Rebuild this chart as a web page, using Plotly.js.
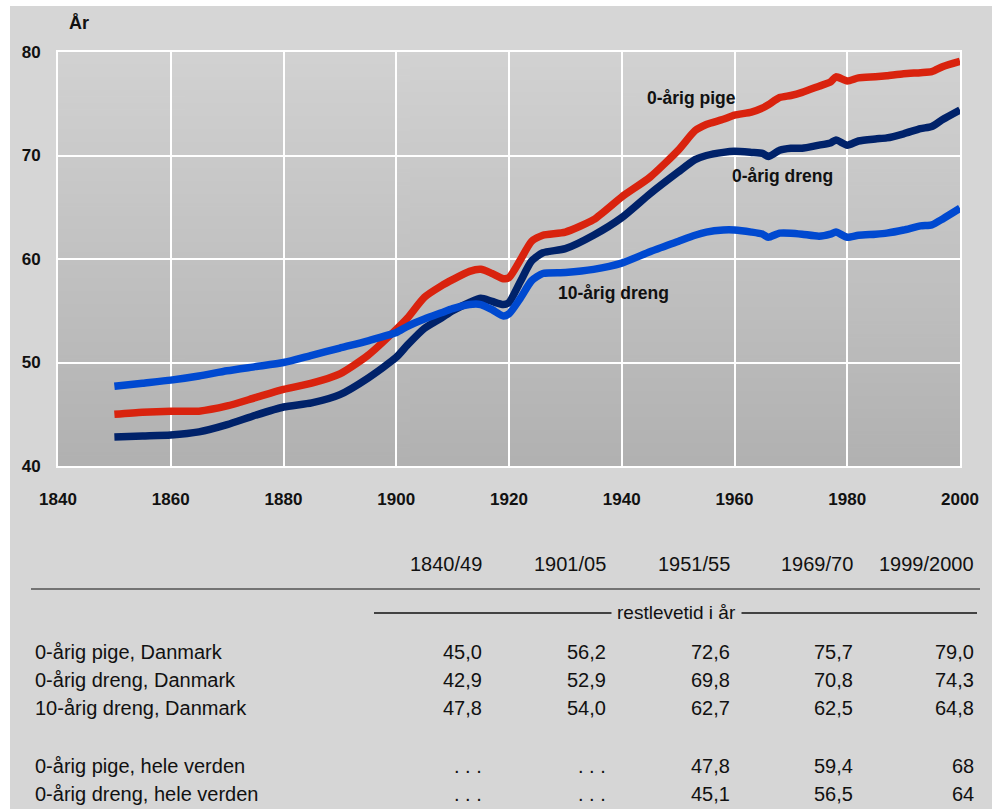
<!DOCTYPE html>
<html>
<head>
<meta charset="utf-8">
<script src="https://cdn.plot.ly/plotly-3.0.1.min.js"></script>
<style>
html,body{margin:0;padding:0;background:#ffffff;}
#chart{width:999px;height:809px;}
</style>
</head>
<body>
<div id="chart"></div>
<script>
// ---------- data ----------
const years = [1850,1855,1860,1865,1870,1875,1880,1885,1890,1895,1900,1902,1905,1908,1910,1913,1915,1917,1919,1920,1922,1924,1926,1930,1935,1940,1945,1950,1953,1955,1958,1960,1963,1965,1966,1968,1970,1972,1975,1977,1978,1980,1982,1985,1987,1990,1993,1995,1997,2000];
const pige0 = [45.0,45.2,45.3,45.3,45.8,46.6,47.4,48.0,48.9,50.7,53.2,54.3,56.3,57.4,58.0,58.8,59.0,58.6,58.1,58.2,59.9,61.7,62.3,62.6,63.8,66.0,67.9,70.5,72.4,73.0,73.5,73.9,74.2,74.6,74.9,75.6,75.8,76.1,76.7,77.1,77.6,77.2,77.5,77.6,77.7,77.9,78.0,78.1,78.6,79.1];
const dreng0 = [42.8,42.9,43.0,43.3,44.0,44.9,45.7,46.1,46.9,48.5,50.5,51.7,53.3,54.3,55.0,55.8,56.2,55.9,55.6,55.8,57.8,59.8,60.6,61.0,62.3,64.0,66.3,68.4,69.6,70.0,70.3,70.4,70.3,70.2,69.9,70.5,70.7,70.7,71.0,71.2,71.5,71.0,71.4,71.6,71.7,72.1,72.6,72.8,73.5,74.4];
const dreng10 = [47.7,48.0,48.3,48.7,49.2,49.6,50.0,50.7,51.4,52.1,52.9,53.5,54.2,54.8,55.2,55.6,55.6,55.1,54.5,54.7,56.2,57.9,58.6,58.7,59.0,59.6,60.7,61.7,62.3,62.6,62.8,62.8,62.6,62.4,62.1,62.5,62.5,62.4,62.2,62.4,62.6,62.1,62.3,62.4,62.5,62.8,63.2,63.3,63.9,64.9];

const seriesNames = ['0-årig pige','0-årig dreng','10-årig dreng'];
const xTicks = [1840,1860,1880,1900,1920,1940,1960,1980,2000];
const yTicks = [40,50,60,70,80];

const tableCols = ['1840/49','1901/05','1951/55','1969/70','1999/2000'];
const tableUnit = 'restlevetid i år';
const tableRowLabels = ['0-årig pige, Danmark','0-årig dreng, Danmark','10-årig dreng, Danmark','0-årig pige, hele verden','0-årig dreng, hele verden'];
const tableValues = [
  ['45,0','56,2','72,6','75,7','79,0'],
  ['42,9','52,9','69,8','70,8','74,3'],
  ['47,8','54,0','62,7','62,5','64,8'],
  ['. . .','. . .','47,8','59,4','68'],
  ['. . .','. . .','45,1','56,5','64']
];

// ---------- layout geometry (pixels) ----------
const W = 999, H = 809;
const L = 58, R = 960, T = 52, B = 466;
const PW = R - L, PH = B - T;
const X = px => (px - L) / PW;
const Y = py => (B - py) / PH;

// gradient background for plot area
const cv = document.createElement('canvas');
cv.width = 4; cv.height = 256;
const cx = cv.getContext('2d');
const g = cx.createLinearGradient(0,0,0,256);
g.addColorStop(0,'#d2d2d2');
g.addColorStop(1,'#b1b1b1');
cx.fillStyle = g; cx.fillRect(0,0,4,256);
const gradURL = cv.toDataURL('image/png');

const colors = ['#d9230e','#00226a','#0049d0'];
const ys = [pige0, dreng0, dreng10];
const traces = ys.map((v,i) => ({
  x: years, y: v, type:'scatter', mode:'lines', name: seriesNames[i],
  line:{color:colors[i], width:7.5, shape:'spline', smoothing:0.6},
  hoverinfo:'skip'
}));

const sansB = 'Liberation Sans, Arial, sans-serif';
const annotations = [];
// axis unit
annotations.push({xref:'paper',yref:'paper',x:X(79),y:Y(23),text:'<b>År</b>',showarrow:false,
  xanchor:'center',yanchor:'middle',font:{family:sansB,size:18,color:'#111'}});
// series labels
const labelPos = [[691,98],[782,176],[613,293]];
seriesNames.forEach((n,i)=>{
  annotations.push({xref:'paper',yref:'paper',x:X(labelPos[i][0]),y:Y(labelPos[i][1]),
    text:'<b>'+n+'</b>',showarrow:false,xanchor:'center',yanchor:'middle',
    font:{family:sansB,size:17.5,color:'#111'}});
});
// table
const colRight = [484,608,732,855,976];
const tfont = {family:'Liberation Sans, Arial, sans-serif',size:20,color:'#111'};
tableCols.forEach((c,j)=>{
  annotations.push({xref:'paper',yref:'paper',x:X(colRight[j]),y:Y(564),text:c,showarrow:false,
    xanchor:'right',yanchor:'middle',font:tfont});
});
annotations.push({xref:'paper',yref:'paper',x:X(676),y:Y(612),text:tableUnit,showarrow:false,
  xanchor:'center',yanchor:'middle',font:{family:tfont.family,size:19,color:'#111'},
  bgcolor:'#d6d6d6',borderpad:5});
const rowY = [652,680,708,766,794];
tableRowLabels.forEach((lab,i)=>{
  annotations.push({xref:'paper',yref:'paper',x:X(33),y:Y(rowY[i]),text:lab,showarrow:false,
    xanchor:'left',yanchor:'middle',font:tfont});
  tableValues[i].forEach((v,j)=>{
    annotations.push({xref:'paper',yref:'paper',x:X(colRight[j]),y:Y(rowY[i]),text:v,showarrow:false,
      xanchor:'right',yanchor:'middle',font:tfont});
  });
});

const shapes = [
  // white outer strips
  {type:'rect',xref:'paper',yref:'paper',x0:X(0),x1:X(10),y0:Y(H),y1:Y(0),fillcolor:'#ffffff',line:{width:0}},
  {type:'rect',xref:'paper',yref:'paper',x0:X(0),x1:X(W),y0:Y(6),y1:Y(0),fillcolor:'#ffffff',line:{width:0}},
  {type:'rect',xref:'paper',yref:'paper',x0:X(992),x1:X(W),y0:Y(H),y1:Y(0),fillcolor:'#ffffff',line:{width:0}},
  // table rules
  {type:'line',xref:'paper',yref:'paper',x0:X(31),x1:X(980),y0:Y(589),y1:Y(589),line:{color:'#111',width:1}},
  {type:'line',xref:'paper',yref:'paper',x0:X(374),x1:X(977),y0:Y(613),y1:Y(613),line:{color:'#111',width:1.3},layer:'below'}
];

const layout = {
  width:W, height:H, autosize:false,
  margin:{l:L, r:W-R, t:T, b:H-B, pad:0},
  paper_bgcolor:'#d6d6d6',
  plot_bgcolor:'rgba(0,0,0,0)',
  showlegend:false,
  images:[{source:gradURL,xref:'paper',yref:'paper',x:0,y:1,sizex:1,sizey:1,
    sizing:'stretch',xanchor:'left',yanchor:'top',layer:'below'}],
  xaxis:{range:[1840,2000],tickvals:xTicks,ticktext:xTicks.map(String),
    showgrid:true,gridcolor:'#ffffff',gridwidth:2,zeroline:false,
    showline:true,linecolor:'#ffffff',linewidth:2,mirror:true,ticks:'',
    ticklabelstandoff:17,
    tickfont:{family:sansB,size:17,color:'#111',weight:'bold'},fixedrange:true},
  yaxis:{range:[40,80],tickvals:yTicks,ticktext:yTicks.map(String),
    showgrid:true,gridcolor:'#ffffff',gridwidth:2,zeroline:false,
    showline:true,linecolor:'#ffffff',linewidth:2,mirror:true,ticks:'',
    ticklabelstandoff:12,
    tickfont:{family:sansB,size:17,color:'#111',weight:'bold'},fixedrange:true},
  annotations:annotations,
  shapes:shapes
};

Plotly.newPlot('chart', traces, layout, {displayModeBar:false, staticPlot:true});
</script>
</body>
</html>
